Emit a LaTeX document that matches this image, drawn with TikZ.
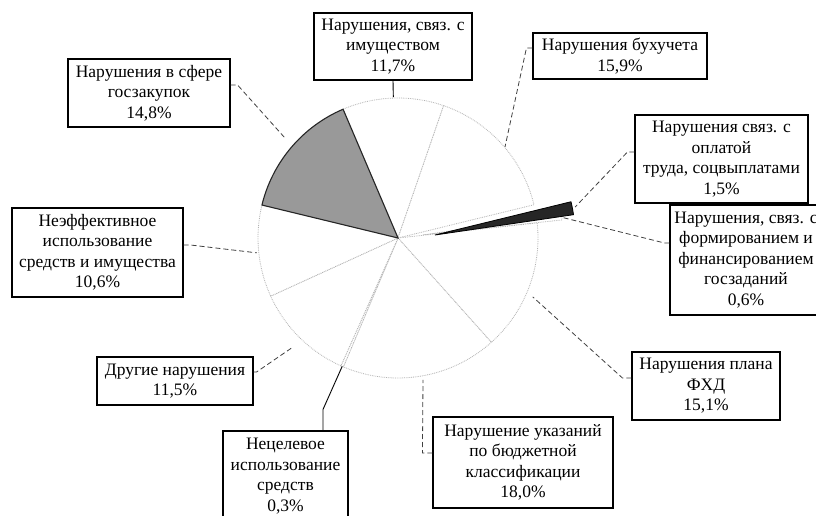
\documentclass[tikz,border=0pt]{standalone}
\usepackage{fontspec}
\setmainfont{Liberation Serif}
\usetikzlibrary{calc}
\begin{document}
\begin{tikzpicture}[x=1bp,y=-1bp,
  lbox/.style={draw=black, line width=1.1bp, fill=white, align=center, inner sep=1bp,
    font=\fontsize{17.5bp}{20.5bp}\selectfont},
  wslice/.style={draw=gray!60, densely dotted, line width=0.8bp, fill=white},
  gslice/.style={draw=black!85, line width=1.1bp, fill=black!40},
  dslice/.style={draw=black, line width=0.8bp, fill=black!85},
  leader/.style={draw=black!75, line width=0.8bp, dash pattern=on 5bp off 3bp},
  sleader/.style={draw=black, line width=0.9bp}]
\useasboundingbox[fill=white] (0,0) rectangle (816,516);
\coordinate (C) at (398,238);
\coordinate (Cop) at (435,235);
\coordinate (Cgz) at (423,235);
% white slices
\draw[wslice] (C) -- ++(-113.1:140) arc[start angle=-113.1, end angle=-70.98, radius=140] -- cycle;
\draw[wslice] (C) -- ++(-70.98:140) arc[start angle=-70.98, end angle=-13.74, radius=140] -- cycle;
\draw[wslice] (Cgz) -- ++(-8.34:140) arc[start angle=-8.34, end angle=-6.18, radius=140] -- cycle;
\draw[wslice] (C) -- ++(-6.18:140) arc[start angle=-6.18, end angle=48.18, radius=140] -- cycle;
\draw[wslice] (C) -- ++(48.18:140) arc[start angle=48.18, end angle=112.98, radius=140] -- cycle;
\draw[wslice] (C) -- ++(112.98:140) arc[start angle=112.98, end angle=114.06, radius=140] -- cycle;
\draw[wslice] (C) -- ++(114.06:140) arc[start angle=114.06, end angle=155.46, radius=140] -- cycle;
\draw[wslice] (C) -- ++(155.46:140) arc[start angle=155.46, end angle=193.62, radius=140] -- cycle;
% shaded slices
\draw[gslice] (C) -- ++(193.62:140) arc[start angle=193.62, end angle=246.9, radius=140] -- cycle;
\draw[dslice] (Cop) -- ++(-13.74:140) arc[start angle=-13.74, end angle=-8.34, radius=140] -- cycle;
% leader end points
\coordinate (Lg) at ($(C)+(221.5:151)$);
\coordinate (Lim) at ($(C)+(-91.9:141)$);
\coordinate (Lbu) at ($(C)+(-40.4:140.5)$);
\coordinate (Lop) at ($(Cop)+(-11.3:143)$);
\coordinate (Lgz) at ($(Cgz)+(-7.26:140)$);
\coordinate (Lfx) at ($(C)+(23.6:147)$);
\coordinate (Lbk) at ($(C)+(80:144)$);
\coordinate (Lnc) at ($(C)+(113.5:140)$);
\coordinate (Ldr) at ($(C)+(133.9:151)$);
\coordinate (Lne) at ($(C)+(174:142)$);
% boxes
\node[lbox, minimum width=162bp, minimum height=68bp] (g) at (149,93) {Нарушения в сфере\\госзакупок\\14,8\%};
\node[lbox, minimum width=158bp, minimum height=67bp] (im) at (393,46.5) {Нарушения, связ. с\\имуществом\\11,7\%};
\node[lbox, minimum width=174bp, minimum height=46bp] (bu) at (620,56) {Нарушения бухучета\\15,9\%};
\node[lbox, minimum width=173bp, minimum height=88bp] (op) at (721.5,159) {Нарушения связ. с\\оплатой\\труда, соцвыплатами\\1,5\%};
\node[lbox, minimum width=152bp, minimum height=110bp] (gz) at (746,260) {Нарушения, связ. с\\формированием и\\финансированием\\госзаданий\\0,6\%};
\node[lbox, minimum width=148bp, minimum height=68bp] (fx) at (706,386) {Нарушения плана\\ФХД\\15,1\%};
\node[lbox, minimum width=180bp, minimum height=91bp] (bk) at (523,462.5) {Нарушение указаний\\по бюджетной\\классификации\\18,0\%};
\node[lbox, minimum width=125bp, minimum height=90bp] (nc) at (285.5,476) {Нецелевое\\использование\\средств\\0,3\%};
\node[lbox, minimum width=156bp, minimum height=48bp] (dr) at (175,381) {Другие нарушения\\11,5\%};
\node[lbox, minimum width=171bp, minimum height=89bp] (ne) at (97.5,252.5) {Неэффективное\\использование\\средств и имущества\\10,6\%};
% leaders
\draw[leader] ([yshift=8bp]g.east) -- ++(7,0) -- (Lg);
\draw[sleader] (im.south) -- (Lim);
\draw[leader] ([yshift=8bp]bu.west) -- ++(-6,0) -- (Lbu);
\draw[leader] ([yshift=7bp]op.west) -- ++(-7,0) -- (Lop);
\draw[leader] ([yshift=17bp]gz.west) -- ++(-5,0) -- (Lgz);
\draw[leader] ([yshift=8bp]fx.west) -- ++(-9,0) -- (Lfx);
\draw[leader] ([yshift=9.5bp]bk.west) -- ++(-10,0) -- (Lbk);
\draw[sleader] ([xshift=37.5bp]nc.north) -- ++(0,-21) -- (Lnc);
\draw[leader] ([yshift=9bp]dr.east) -- ++(3,0) -- (Ldr);
\draw[leader] ([yshift=7.5bp]ne.east) -- ++(7,0) -- (Lne);
\end{tikzpicture}
\end{document}
